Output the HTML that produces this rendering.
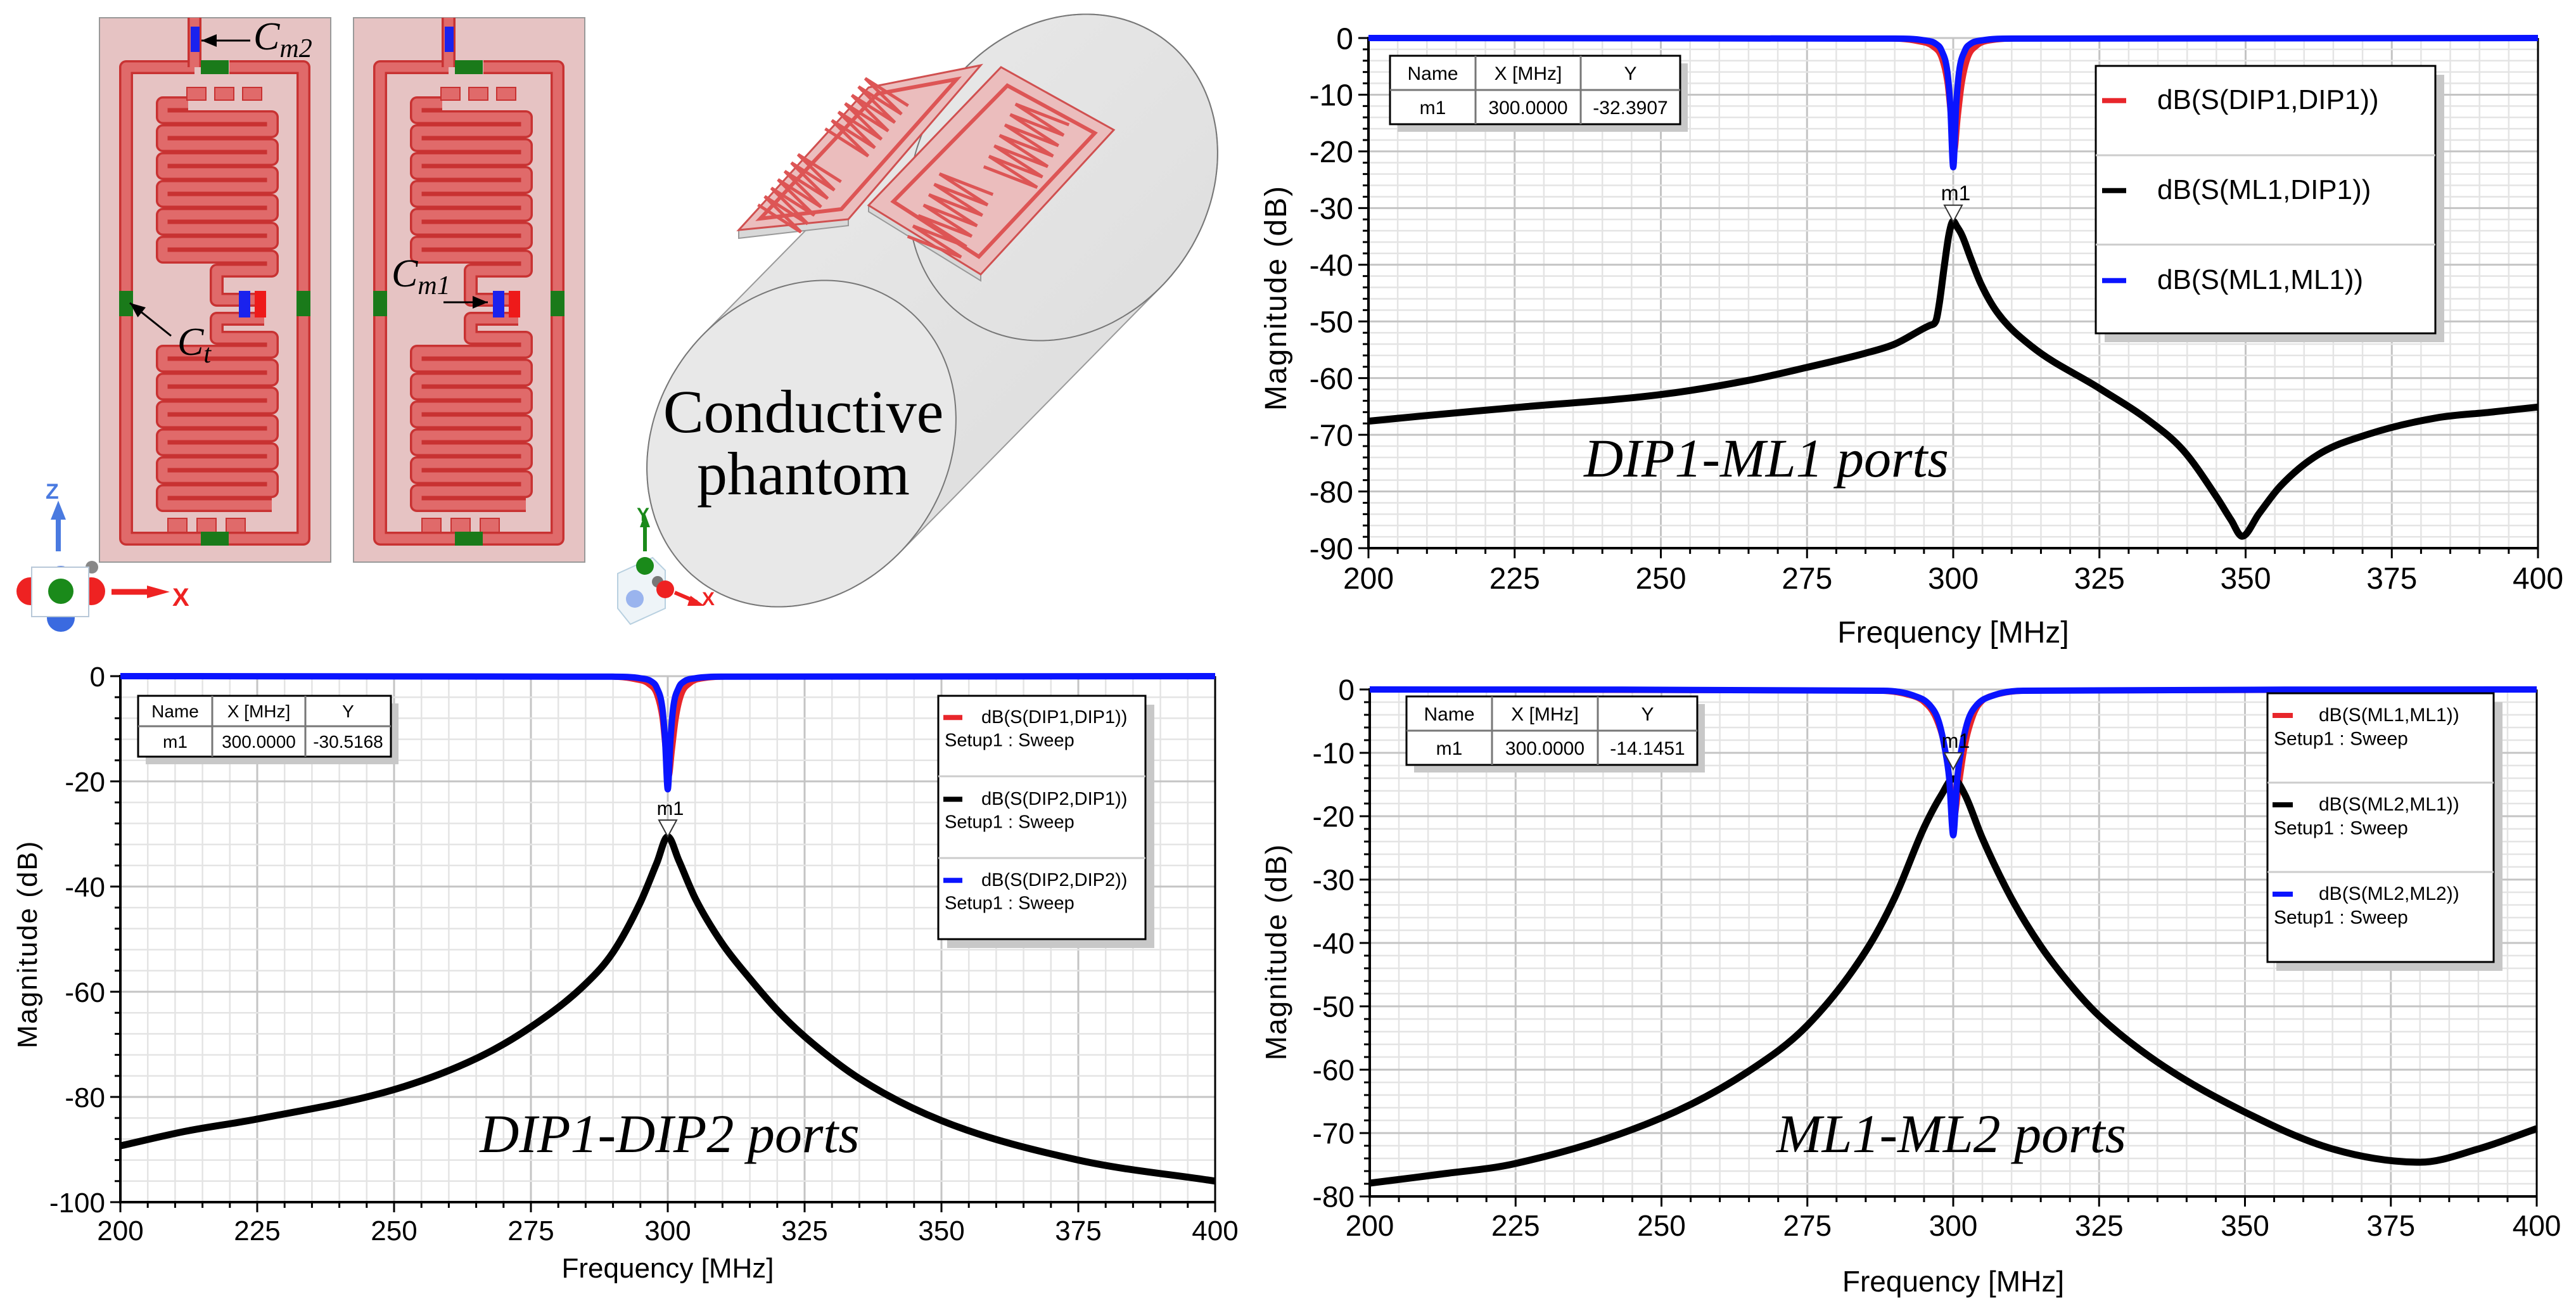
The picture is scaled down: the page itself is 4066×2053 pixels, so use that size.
<!DOCTYPE html>
<html><head><meta charset="utf-8"><style>
html,body{margin:0;padding:0;background:#fff}
svg{display:block}
</style></head><body>
<svg id="root" width="4066" height="2053" viewBox="0 0 4066 2053" xmlns="http://www.w3.org/2000/svg" font-family="Liberation Sans, sans-serif">
<g id="illus"></g>
<g id="c1"></g>
<g id="c2"></g>
<g id="c3"></g>
</svg>
<script>
// ---------- chart data ----------
const freqTicks = [200,225,250,275,300,325,350,375,400];
// Chart 1 (DIP1-ML1)
const c1BlackF = [200,210,225,250,265,275,285,290,296,297,297.6,298.5,299.3,300,300.6,301.5,303,304.7,307.6,313.4,325,333.6,339.3,345,347.5,349.4,352.3,355.9,362.4,371,382.7,392,400];
const c1BlackV = [-67.6,-66.6,-65.2,-62.9,-60.4,-58.1,-55.6,-54,-50.7,-50,-47,-40,-34.5,-32.3,-33.2,-34.8,-38.9,-43.3,-48.5,-54.4,-61.8,-67.6,-72.7,-80.9,-85,-87.9,-83.9,-79.1,-73.5,-69.9,-67,-66,-65.1];
const c1RedF = [200,288,294,296.5,298,299,299.6,300.2,300.8,301.5,302.5,304,306,312,400];
const c1RedV = [0,-0.1,-0.6,-1.5,-3.5,-8,-14,-20,-14,-8,-3.5,-1.4,-0.5,-0.1,0];
const c1BlueF = [200,290,295,297,298,299,299.5,300,300.5,301,302,303,305,310,400];
const c1BlueV = [0,-0.1,-0.4,-1,-2.2,-6,-12,-22.8,-12,-6,-2.2,-1,-0.4,-0.1,0];
const c1YTicks = [0,-10,-20,-30,-40,-50,-60,-70,-80,-90];
// Chart 2 (DIP1-DIP2)
const c2BlackF = [200,212,225,250,265,275,285,290,295,298,300,302,305,310,315,320,325,335,350,375,400];
const c2BlackV = [-89.3,-86.5,-84.2,-78.6,-72.7,-66.7,-58.5,-52.5,-43,-35.5,-30.5,-35,-42.2,-50.9,-57.5,-63.5,-68.5,-76.5,-84.5,-92,-96];
const c2RedF = [200,288,294,296.5,298,299,299.6,300.2,300.8,301.5,302.5,304,306,312,400];
const c2RedV = [0,-0.1,-0.6,-1.5,-3.5,-8,-14,-19,-14,-8,-3.5,-1.4,-0.5,-0.1,0];
const c2BlueF = [200,290,295,297,298,299,299.5,300,300.5,301,302,303,305,310,400];
const c2BlueV = [0,-0.1,-0.4,-1,-2.2,-6,-12,-21.5,-12,-6,-2.2,-1,-0.4,-0.1,0];
const c2YTicks = [0,-20,-40,-60,-80,-100];
// Chart 3 (ML1-ML2)
const c3BlackF = [200,212,225,250,265,275,285,290,295,298,300,302,305,310,315,320,325,335,350,365,380,390,400];
const c3BlackV = [-77.9,-76.5,-74.8,-67.6,-60.2,-53,-41.3,-32.8,-21.8,-16.6,-14.1,-16.6,-23.5,-33,-40.5,-46.5,-51.5,-58.8,-66.7,-72.5,-74.6,-72.5,-69.3];
const c3RedF = [200,286,292,295,297,298.5,299.5,300.2,301,302,303.5,305,308,314,400];
const c3RedV = [0,-0.2,-0.8,-2,-4.5,-9,-15,-20,-15,-9,-4,-1.8,-0.7,-0.2,0];
const c3BlueF = [200,288,293,296,297.5,298.5,299.3,300,300.7,301.5,302.5,304,307,312,400];
const c3BlueV = [0,-0.2,-0.9,-2.5,-5,-9,-14,-23,-14,-9,-5,-2.5,-0.9,-0.2,0];
const c3YTicks = [0,-10,-20,-30,-40,-50,-60,-70,-80];

const NS = "http://www.w3.org/2000/svg";
const SERIF = 'font-family:"Liberation Serif",serif';
function el(tag, attrs, parent, txt){
  const e = document.createElementNS(NS, tag);
  for (const k in attrs) e.setAttribute(k, attrs[k]);
  if (txt !== undefined) e.textContent = txt;
  parent.appendChild(e);
  return e;
}
function monoPath(X, Y){
  const n = X.length, d = [], m = [];
  for (let i=0;i<n-1;i++) d.push((Y[i+1]-Y[i])/(X[i+1]-X[i]));
  m[0]=d[0]; m[n-1]=d[n-2];
  for (let i=1;i<n-1;i++){ m[i] = (d[i-1]*d[i]<=0)?0:(d[i-1]+d[i])/2; }
  for (let i=0;i<n-1;i++){
    if (d[i]===0){m[i]=0;m[i+1]=0;continue;}
    const a=m[i]/d[i], b=m[i+1]/d[i], s=a*a+b*b;
    if (s>9){const t=3/Math.sqrt(s);m[i]=t*a*d[i];m[i+1]=t*b*d[i];}
  }
  let p = `M${X[0].toFixed(1)},${Y[0].toFixed(1)}`;
  for (let i=0;i<n-1;i++){
    const h=(X[i+1]-X[i])/3;
    p += `C${(X[i]+h).toFixed(1)},${(Y[i]+m[i]*h).toFixed(1)} ${(X[i+1]-h).toFixed(1)},${(Y[i+1]-m[i+1]*h).toFixed(1)} ${X[i+1].toFixed(1)},${Y[i+1].toFixed(1)}`;
  }
  return p;
}

function drawChart(gid, cfg){
  const g = document.getElementById(gid);
  const sx = f => cfg.x0 + (f-200)/200*(cfg.x1-cfg.x0);
  const sy = v => cfg.y0 + (v/cfg.yMin)*(cfg.yB-cfg.y0);
  for (let f=200; f<=400; f+=5){
    const ln = el('line',{x1:sx(f),x2:sx(f),y1:cfg.y0,y2:cfg.yB,stroke:(f%25===0)?'#c4c4c4':'#e4e4e4','stroke-width':(f%25===0)?3:2.5},g);
    
    
  }
  const step = cfg.yStep/5;
  for (let v=0; v>=cfg.yMin-0.01; v-=step){
    const major = Math.abs(Math.round(v/cfg.yStep)*cfg.yStep - v) < 0.01;
    const ln = el('line',{x1:cfg.x0,x2:cfg.x1,y1:sy(v),y2:sy(v),stroke:major?'#c4c4c4':'#e4e4e4','stroke-width':major?3:2.5},g);
    
    
    const tk = el('line',{x1:cfg.x0-(major?16:9),x2:cfg.x0,y1:sy(v),y2:sy(v),stroke:'#000','stroke-width':3},g);
    
    
  }
  for (let f=200; f<=400; f+=5){
    const tk = el('line',{x1:sx(f),x2:sx(f),y1:cfg.yB,y2:cfg.yB+((f%25===0)?16:9),stroke:'#000','stroke-width':3},g);
    
    
  }
  el('line',{x1:cfg.x1,x2:cfg.x1,y1:cfg.y0,y2:cfg.yB,stroke:'#000','stroke-width':3},g);
  const ax = el('path',{d:`M${cfg.x0},${cfg.y0-2}V${cfg.yB}H${cfg.x1}`,fill:'none',stroke:'#000','stroke-width':4},g);
  
  
  freqTicks.forEach(f=>{
    const t = el('text',{x:sx(f),y:cfg.yB+cfg.xLabOff,'font-size':cfg.fs,'text-anchor':'middle'},g,String(f));
    
    
  });
  cfg.yTicks.forEach(v=>{
    const t = el('text',{x:cfg.x0-24,y:sy(v)+cfg.fs*0.36,'font-size':cfg.fs,'text-anchor':'end'},g,String(v));
    
    
  });
  const yt = el('text',{x:cfg.ytx,y:cfg.yty,'font-size':cfg.fs,'text-anchor':'middle',transform:`rotate(-90 ${cfg.ytx} ${cfg.yty})`,'letter-spacing':2},g,'Magnitude (dB)');
  
  
  const xt = el('text',{x:(cfg.x0+cfg.x1)/2,y:cfg.xty,'font-size':cfg.fs,'text-anchor':'middle'},g,'Frequency [MHz]');
  
  
  const path = (F,V)=>monoPath(F.map(sx), V.map(sy));
  const s1 = el('path',{d:path(cfg.redF,cfg.redV),fill:'none',stroke:'#e8262b','stroke-width':9,'stroke-linejoin':'round'},g);
  
  
  const s2 = el('path',{d:path(cfg.blackF,cfg.blackV),fill:'none',stroke:'#000','stroke-width':11,'stroke-linejoin':'round'},g);
  
  
  const s3 = el('path',{d:path(cfg.blueF,cfg.blueV),fill:'none',stroke:'#0a14ff','stroke-width':10,'stroke-linejoin':'round'},g);
  
  
  const mx = sx(300), my = sy(cfg.markerV);
  const mk = el('path',{d:`M${mx-14},${my-26}H${mx+14}L${mx},${my}Z`,fill:'#fff',stroke:'#333','stroke-width':2},g);
  
  
  el('text',{x:mx+4,y:my-34,'font-size':cfg.fs*0.7,'text-anchor':'middle'},g,'m1');
  const T = cfg.tbl;
  el('rect',{x:T.x+12,y:T.y+12,width:T.w,height:T.h,fill:'#c8c8c8'},g);
  const tb = el('rect',{x:T.x,y:T.y,width:T.w,height:T.h,fill:'#fff',stroke:'#000','stroke-width':3},g);
  
  
  el('line',{x1:T.c1,x2:T.c1,y1:T.y,y2:T.y+T.h,stroke:'#777','stroke-width':3},g);
  el('line',{x1:T.c2,x2:T.c2,y1:T.y,y2:T.y+T.h,stroke:'#777','stroke-width':3},g);
  el('line',{x1:T.x,x2:T.x+T.w,y1:T.r,y2:T.r,stroke:'#777','stroke-width':3},g);
  const tfs = T.fs;
  const cells = [['Name',(T.x+T.c1)/2,(T.y+T.r)/2],['X [MHz]',(T.c1+T.c2)/2,(T.y+T.r)/2],['Y',(T.c2+T.x+T.w)/2,(T.y+T.r)/2],
    ['m1',(T.x+T.c1)/2,(T.r+T.y+T.h)/2],['300.0000',(T.c1+T.c2)/2,(T.r+T.y+T.h)/2],[cfg.markerTxt,(T.c2+T.x+T.w)/2,(T.r+T.y+T.h)/2]];
  cells.forEach(c=>el('text',{x:c[1],y:c[2]+tfs*0.36,'font-size':tfs,'text-anchor':'middle'},g,c[0]));
  const L = cfg.leg;
  el('rect',{x:L.x+14,y:L.y+14,width:L.w,height:L.h,fill:'#c8c8c8'},g);
  const lb = el('rect',{x:L.x,y:L.y,width:L.w,height:L.h,fill:'#fff',stroke:'#000','stroke-width':3},g);
  
  
  const cols = ['#e8262b','#000','#0a14ff'];
  L.seps.forEach(s=>el('line',{x1:L.x,x2:L.x+L.w,y1:s,y2:s,stroke:'#ccc','stroke-width':3},g));
  L.names.forEach((n,i)=>{
    const ly = L.rows[i];
    el('line',{x1:L.x+L.sw0,x2:L.x+L.sw1,y1:ly-L.fs*0.3,y2:ly-L.fs*0.3,stroke:cols[i],'stroke-width':8},g);
    const t = el('text',{x:L.tx,y:ly,'font-size':L.fs},g,n);
    
    
    if (L.setup){
      el('text',{x:L.x+10,y:ly+L.fs*1.25,'font-size':L.fs},g,'Setup1 : Sweep');
    }
  });
  const an = el('text',{x:cfg.ann.x,y:cfg.ann.y,'font-size':cfg.ann.fs,'font-style':'italic','text-anchor':'middle',style:SERIF},g,cfg.ann.t);
  
  
}

drawChart('c1',{x0:2160,x1:4006,y0:60,yB:865,yMin:-90,yStep:10,yTicks:c1YTicks,fs:48,xLabOff:64,ytx:2030,yty:470,xty:1014,
  blackF:c1BlackF,blackV:c1BlackV,redF:c1RedF,redV:c1RedV,blueF:c1BlueF,blueV:c1BlueV,markerV:-32.4,markerTxt:'-32.3907',
  tbl:{x:2194,y:88,w:458,h:108,c1:2329,c2:2495,r:142,fs:30},
  leg:{x:3308,y:104,w:536,h:422,seps:[245,386],rows:[172,314,456],names:['dB(S(DIP1,DIP1))','dB(S(ML1,DIP1))','dB(S(ML1,ML1))'],fs:44,tx:3405,sw0:10,sw1:48,setup:false},
  ann:{x:2788,y:752,fs:86,t:'DIP1-ML1 ports'}});
drawChart('c2',{x0:190,x1:1918,y0:1067,yB:1897,yMin:-100,yStep:20,yTicks:c2YTicks,fs:44,xLabOff:60,ytx:58,yty:1490,xty:2016,
  blackF:c2BlackF,blackV:c2BlackV,redF:c2RedF,redV:c2RedV,blueF:c2BlueF,blueV:c2BlueV,markerV:-30.5,markerTxt:'-30.5168',
  tbl:{x:218,y:1098,w:399,h:96,c1:335,c2:482,r:1146,fs:28},
  leg:{x:1481,y:1098,w:327,h:384,seps:[1225,1354],rows:[1141,1270,1398],names:['dB(S(DIP1,DIP1))','dB(S(DIP2,DIP1))','dB(S(DIP2,DIP2))'],fs:29,tx:1549,sw0:8,sw1:38,setup:true},
  ann:{x:1057,y:1818,fs:86,t:'DIP1-DIP2 ports'}});
drawChart('c3',{x0:2162,x1:4004,y0:1088,yB:1888,yMin:-80,yStep:10,yTicks:c3YTicks,fs:46,xLabOff:62,ytx:2030,yty:1502,xty:2038,
  blackF:c3BlackF,blackV:c3BlackV,redF:c3RedF,redV:c3RedV,blueF:c3BlueF,blueV:c3BlueV,markerV:-12.6,markerTxt:'-14.1451',
  tbl:{x:2220,y:1099,w:459,h:108,c1:2355,c2:2522,r:1153,fs:30},
  leg:{x:3579,y:1094,w:357,h:424,seps:[1235,1376],rows:[1138,1279,1420],names:['dB(S(ML1,ML1))','dB(S(ML2,ML1))','dB(S(ML2,ML2))'],fs:30,tx:3660,sw0:8,sw1:40,setup:true},
  ann:{x:3080,y:1818,fs:86,t:'ML1-ML2 ports'}});

// ---------- illustration ----------
(function(){
  const g = document.getElementById('illus');
  const fc=[1265,700], bc=[1678,280], rx=230, ry=270, th=35*Math.PI/180;
  const ell = c=>{const p=[];for(let i=0;i<180;i++){const a=i/180*2*Math.PI;const x=rx*Math.cos(a),y=ry*Math.sin(a);p.push([c[0]+x*Math.cos(th)-y*Math.sin(th),c[1]+x*Math.sin(th)+y*Math.cos(th)]);}return p;};
  const all = ell(fc).concat(ell(bc)).sort((a,b)=>a[0]-b[0]||a[1]-b[1]);
  const cr=(o,a,b)=>(a[0]-o[0])*(b[1]-o[1])-(a[1]-o[1])*(b[0]-o[0]);
  const lo=[],up=[];
  for(const p of all){while(lo.length>=2&&cr(lo[lo.length-2],lo[lo.length-1],p)<=0)lo.pop();lo.push(p);}
  for(const p of all.slice().reverse()){while(up.length>=2&&cr(up[up.length-2],up[up.length-1],p)<=0)up.pop();up.push(p);}
  const hull=lo.slice(0,-1).concat(up.slice(0,-1));
  const defs = el('defs',{},g);
  const lg = el('linearGradient',{id:'cyl',x1:'0',y1:'0',x2:'1',y2:'1'},defs);
  el('stop',{offset:'0','stop-color':'#ececec'},lg);
  el('stop',{offset:'1','stop-color':'#dadada'},lg);
  const body = el('polygon',{points:hull.map(p=>p[0].toFixed(1)+','+p[1].toFixed(1)).join(' '),fill:'url(#cyl)',stroke:'#999','stroke-width':2},g);
  
  
  const ep = c=>ell(c).map(p=>p[0].toFixed(1)+','+p[1].toFixed(1)).join(' ');
  el('polygon',{points:ep(bc),fill:'none',stroke:'#777','stroke-width':2},g);
  el('polygon',{points:ep(fc),fill:'#e8e8e8',stroke:'#777','stroke-width':2},g);
  const t1 = el('text',{x:1268,y:682,'font-size':96,'text-anchor':'middle',style:SERIF},g,'Conductive');
  
  
  el('text',{x:1268,y:780,'font-size':96,'text-anchor':'middle',style:SERIF},g,'phantom');
  const board=(pts,nm)=>{const b=el('polygon',{points:pts,fill:'#efb8b8','fill-opacity':0.85,stroke:'#d05050','stroke-width':3},g);};
  el('polygon',{points:'1166,363 1371,138 1548,103 1339,346 1339,356 1166,376',fill:'#d8d8d8',stroke:'#999','stroke-width':2},g);
  board('1166,363 1371,138 1548,103 1339,346','board-3d-left');
  el('polygon',{points:'1371,324 1580,106 1758,205 1548,433 1548,443 1371,334',fill:'#d8d8d8',stroke:'#999','stroke-width':2},g);
  board('1371,324 1580,106 1758,205 1548,433','board-3d-right');
  el('polygon',{points:'1200,345 1385,148 1510,125 1328,330',fill:'none',stroke:'#dd5555','stroke-width':6},g);
  el('polygon',{points:'1410,318 1590,135 1728,210 1545,405',fill:'none',stroke:'#dd5555','stroke-width':6},g);
  const serp=(cx,cy,ang,len,w,n)=>{const c=Math.cos(ang),s=Math.sin(ang);let d='';for(let i=0;i<n;i++){const t=-len/2+i*len/(n-1);const off=(i%2?1:-1)*w;const x=cx+t*c - off*s, y=cy+t*s+off*c;d+=(i?'L':'M')+x.toFixed(1)+','+y.toFixed(1);}el('path',{d:d,fill:'none',stroke:'#dd5555','stroke-width':5},g);};
  serp(1262,305,-0.9,110,40,14);
  serp(1368,185,-0.9,110,40,14);
  serp(1500,340,-1.1,120,45,14);
  serp(1620,230,-1.1,120,45,14);

  function panel(px, nm){
    const pg = el('g',{transform:`translate(${px},28)`},g);
    
    
    el('rect',{x:0,y:0,width:365,height:859,fill:'#e6c3c3',stroke:'#999','stroke-width':2},pg);
    const tr = (d)=>{el('path',{d:d,fill:'none',stroke:'#c83232','stroke-width':22,'stroke-linejoin':'round'},pg);el('path',{d:d,fill:'none',stroke:'#e06a6a','stroke-width':15,'stroke-linejoin':'round'},pg);};
    tr('M150,78H42V822H322V78H205');
    tr('M150,78V0');
    let y=135;
    let d=`M140,${y}H100`;
    for(let k=0;k<6;k++){d+=`V${y+22}H272V${y+44}H100`;y+=44;}
    d=d.replace(/H100$/,'H185');
    d+=`V${y+10}V445H260`;
    tr(d);
    y=505;
    d=`M260,475H185V${y}H272`;
    for(let k=0;k<6;k++){d+=`V${y+22}H100V${y+44}H272`;y+=44;}
    tr(d);
    for(let k=0;k<3;k++){el('rect',{x:138+k*44,y:110,width:30,height:20,fill:'#e06a6a',stroke:'#c83232','stroke-width':2},pg);
      el('rect',{x:108+k*46,y:790,width:30,height:22,fill:'#e06a6a',stroke:'#c83232','stroke-width':2},pg);}
    el('rect',{x:160,y:67,width:44,height:22,fill:'#1a7a1a'},pg);
    el('rect',{x:160,y:811,width:44,height:22,fill:'#1a7a1a'},pg);
    el('rect',{x:31,y:431,width:22,height:40,fill:'#1a7a1a'},pg);
    el('rect',{x:311,y:431,width:22,height:40,fill:'#1a7a1a'},pg);
    el('rect',{x:220,y:431,width:18,height:42,fill:'#1a22ee'},pg);
    el('rect',{x:245,y:431,width:18,height:42,fill:'#ee1a1a'},pg);
    el('rect',{x:144,y:14,width:14,height:40,fill:'#1a22ee'},pg);
    return pg;
  }
  panel(157,'pcb-panel-dipole');
  panel(558,'pcb-panel-microstrip');
  const arr=(x1,y1,x2,y2)=>{el('line',{x1:x1,y1:y1,x2:x2,y2:y2,stroke:'#000','stroke-width':3},g);
    const a=Math.atan2(y2-y1,x2-x1),L=24,W=10;
    el('polygon',{points:`${x2},${y2} ${x2-L*Math.cos(a)+W*Math.sin(a)},${y2-L*Math.sin(a)-W*Math.cos(a)} ${x2-L*Math.cos(a)-W*Math.sin(a)},${y2-L*Math.sin(a)+W*Math.cos(a)}`,fill:'#000'},g);};
  arr(395,64,318,64);
  arr(270,530,205,478);
  arr(700,477,770,477);
  const lab=(x,y,m,s,nm)=>{const t=el('text',{x:x,y:y,'font-size':62,'font-style':'italic',style:SERIF},g);
    
    el('tspan',{},t,m);el('tspan',{'font-size':42,dy:12},t,s);};
  lab(400,78,'C','m2','label-cm2');
  lab(280,560,'C','t','label-ct');
  lab(618,452,'C','m1','label-cm1');
  el('line',{x1:92,y1:870,x2:92,y2:805,stroke:'#4a7ae0','stroke-width':8},g);
  el('polygon',{points:'92,790 80,820 104,820',fill:'#4a7ae0'},g);
  el('text',{x:72,y:787,'font-size':34,'font-weight':'bold',fill:'#4a7ae0'},g,'Z');
  el('circle',{cx:96,cy:915,r:22,fill:'#3a6ae0'},g);
  el('circle',{cx:96,cy:975,r:22,fill:'#3a6ae0'},g);
  el('circle',{cx:48,cy:933,r:22,fill:'#ee2222'},g);
  el('circle',{cx:144,cy:933,r:22,fill:'#ee2222'},g);
  el('circle',{cx:145,cy:895,r:10,fill:'#888'},g);
  el('rect',{x:50,y:895,width:90,height:78,fill:'#fff',stroke:'#b8c8d8','stroke-width':2},g);
  el('circle',{cx:96,cy:933,r:20,fill:'#1a8a1a'},g);
  el('line',{x1:176,y1:934,x2:240,y2:934,stroke:'#ee2222','stroke-width':9},g);
  el('polygon',{points:'268,934 232,924 232,944',fill:'#ee2222'},g);
  el('text',{x:272,y:956,'font-size':40,'font-weight':'bold',fill:'#ee2222'},g,'X');
  el('line',{x1:1018,y1:870,x2:1018,y2:825,stroke:'#1a8a1a','stroke-width':6},g);
  el('polygon',{points:'1018,810 1010,832 1026,832',fill:'#1a8a1a'},g);
  el('text',{x:1005,y:822,'font-size':30,'font-weight':'bold',fill:'#1a8a1a'},g,'Y');
  el('polygon',{points:'975,905 1030,880 1050,900 1050,960 995,985 975,960',fill:'#eef4f8',stroke:'#b8d0e0','stroke-width':2},g);
  el('circle',{cx:1018,cy:893,r:14,fill:'#1a8a1a'},g);
  el('circle',{cx:1038,cy:918,r:9,fill:'#777'},g);
  el('circle',{cx:1050,cy:930,r:14,fill:'#ee2222'},g);
  el('circle',{cx:1002,cy:945,r:14,fill:'#9ab4ee'},g);
  el('line',{x1:1065,y1:935,x2:1100,y2:950,stroke:'#ee2222','stroke-width':6},g);
  el('polygon',{points:'1112,956 1090,940 1085,956',fill:'#ee2222'},g);
  el('text',{x:1108,y:955,'font-size':30,'font-weight':'bold',fill:'#ee2222'},g,'X');
})();
</script>
</body></html>
